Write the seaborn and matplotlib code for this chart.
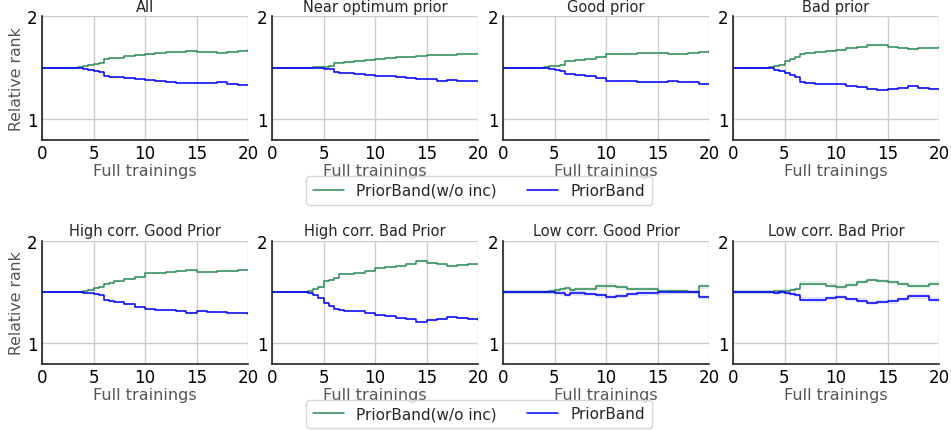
import numpy as np
import pandas as pd
import matplotlib
matplotlib.use("Agg")
import matplotlib.pyplot as plt
import seaborn as sns

# ---- data ----
x_vals = [0, 3.5, 4, 4.5, 5, 5.5, 6, 6.5, 7, 8, 9, 10, 11, 12, 13, 14, 15, 16, 17, 18, 19, 20]

titles = ["All", "Near optimum prior", "Good prior", "Bad prior",
          "High corr. Good Prior", "High corr. Bad Prior", "Low corr. Good Prior", "Low corr. Bad Prior"]

wo_all = [1.5, 1.505, 1.515, 1.525, 1.537, 1.55, 1.58, 1.59, 1.595, 1.61, 1.62, 1.634, 1.64, 1.648, 1.652, 1.66, 1.656, 1.652, 1.645, 1.652, 1.666, 1.667]
pb_all = [1.5, 1.495, 1.488, 1.48, 1.472, 1.455, 1.42, 1.41, 1.405, 1.398, 1.385, 1.375, 1.368, 1.362, 1.355, 1.346, 1.35, 1.355, 1.358, 1.34, 1.335, 1.333]

wo_near = [1.5, 1.5, 1.505, 1.508, 1.51, 1.515, 1.547, 1.55, 1.555, 1.565, 1.578, 1.585, 1.59, 1.6, 1.605, 1.61, 1.62, 1.624, 1.62, 1.634, 1.632, 1.63]
pb_near = [1.5, 1.5, 1.498, 1.495, 1.49, 1.485, 1.456, 1.45, 1.445, 1.435, 1.424, 1.42, 1.414, 1.408, 1.4, 1.392, 1.385, 1.37, 1.38, 1.365, 1.367, 1.368]

wo_good = [1.5, 1.5, 1.505, 1.512, 1.52, 1.53, 1.56, 1.565, 1.57, 1.58, 1.6, 1.634, 1.632, 1.636, 1.64, 1.644, 1.638, 1.634, 1.636, 1.645, 1.657, 1.663]
pb_good = [1.5, 1.5, 1.495, 1.488, 1.48, 1.47, 1.44, 1.435, 1.425, 1.417, 1.395, 1.366, 1.37, 1.365, 1.362, 1.36, 1.362, 1.366, 1.364, 1.36, 1.343, 1.34]

wo_bad = [1.5, 1.505, 1.52, 1.53, 1.56, 1.58, 1.6, 1.634, 1.64, 1.65, 1.66, 1.673, 1.69, 1.705, 1.72, 1.725, 1.705, 1.695, 1.68, 1.69, 1.695, 1.705]
pb_bad = [1.5, 1.495, 1.48, 1.47, 1.445, 1.425, 1.405, 1.36, 1.35, 1.343, 1.338, 1.336, 1.325, 1.31, 1.29, 1.278, 1.29, 1.305, 1.32, 1.304, 1.295, 1.288]

wo_hgood = [1.5, 1.5, 1.51, 1.52, 1.536, 1.545, 1.578, 1.59, 1.605, 1.627, 1.65, 1.68, 1.684, 1.69, 1.7, 1.714, 1.69, 1.695, 1.70, 1.705, 1.712, 1.717]
pb_hgood = [1.5, 1.5, 1.49, 1.485, 1.48, 1.465, 1.425, 1.41, 1.4, 1.383, 1.355, 1.328, 1.325, 1.318, 1.31, 1.295, 1.31, 1.305, 1.30, 1.297, 1.29, 1.286]

wo_hbad = [1.5, 1.51, 1.53, 1.55, 1.61, 1.62, 1.636, 1.67, 1.675, 1.68, 1.7, 1.734, 1.745, 1.756, 1.775, 1.8, 1.785, 1.773, 1.75, 1.76, 1.768, 1.773]
pb_hbad = [1.5, 1.49, 1.465, 1.44, 1.39, 1.36, 1.335, 1.318, 1.315, 1.31, 1.29, 1.27, 1.26, 1.247, 1.23, 1.21, 1.225, 1.237, 1.253, 1.245, 1.235, 1.227]

wo_lgood = [1.5, 1.5, 1.5, 1.505, 1.52, 1.525, 1.54, 1.52, 1.525, 1.53, 1.553, 1.56, 1.545, 1.53, 1.53, 1.53, 1.51, 1.505, 1.505, 1.5, 1.553, 1.553]
pb_lgood = [1.5, 1.5, 1.5, 1.497, 1.49, 1.485, 1.47, 1.49, 1.485, 1.48, 1.465, 1.45, 1.46, 1.48, 1.485, 1.49, 1.495, 1.5, 1.5, 1.5, 1.45, 1.45]

wo_lbad = [1.5, 1.5, 1.51, 1.505, 1.513, 1.52, 1.53, 1.58, 1.58, 1.58, 1.56, 1.545, 1.57, 1.594, 1.617, 1.605, 1.594, 1.575, 1.555, 1.555, 1.58, 1.58]
pb_lbad = [1.5, 1.5, 1.49, 1.5, 1.49, 1.48, 1.47, 1.425, 1.425, 1.425, 1.438, 1.448, 1.43, 1.415, 1.39, 1.4, 1.408, 1.43, 1.455, 1.455, 1.425, 1.425]

# standard-error half widths per panel
sem_width = [0.006, 0.006, 0.007, 0.008, 0.008, 0.008, 0.022, 0.022]

wo_series = [wo_all, wo_near, wo_good, wo_bad, wo_hgood, wo_hbad, wo_lgood, wo_lbad]
pb_series = [pb_all, pb_near, pb_good, pb_bad, pb_hgood, pb_hbad, pb_lgood, pb_lbad]

labels = ["PriorBand(w/o inc)", "PriorBand"]
colors = ["#2e8b57", "#0000ff"]

# ---- plot ----
sns.set_style("whitegrid")
plt.rcParams["font.family"] = ["DejaVu Sans"]

fig = plt.figure(figsize=(9.51, 4.31), dpi=100)
W, H = 951.0, 431.0
lefts = [42, 272, 503, 733]
aw = 206
rows = [(17.3, 140.5), (241.7, 364.5)]

axes = []
for r, (top, bot) in enumerate(rows):
    for c, lx in enumerate(lefts):
        ax = fig.add_axes([lx / W, 1 - bot / H, aw / W, (bot - top) / H])
        axes.append(ax)

handles = None
for i, ax in enumerate(axes):
    df = pd.DataFrame({"x": x_vals, "wo": wo_series[i], "pb": pb_series[i]})
    for key, lab, col in zip(["wo", "pb"], labels, colors):
        y = np.array(df[key])
        ax.fill_between(df["x"], y - sem_width[i], y + sem_width[i], step="post",
                        color=col, alpha=0.12, linewidth=0)
        sns.lineplot(data=df, x="x", y=key, ax=ax, color=col, label=lab,
                     drawstyle="steps-post", linewidth=1.1)
    if handles is None:
        handles, _ = ax.get_legend_handles_labels()
    ax.get_legend().remove()
    ax.set_xlim(0, 20)
    ax.set_ylim(0.8, 2)
    ax.set_xticks([0, 5, 10, 15, 20])
    ax.set_yticks([1, 2])
    ax.tick_params(axis="both", labelsize=12, length=0, pad=3, colors="black")
    ax.set_title(titles[i], fontsize=10.5, pad=4)
    ax.set_xlabel("Full trainings", fontsize=11.5, color="#555555", labelpad=1)
    if i % 4 == 0:
        ax.set_ylabel("Relative rank", fontsize=11.3, color="#555555", labelpad=2)
    else:
        ax.set_ylabel("")
    ax.grid(True, color="#cccccc", linewidth=1)
    sns.despine(ax=ax)
    for s in ["left", "bottom"]:
        ax.spines[s].set_color("#222222")
        ax.spines[s].set_linewidth(1.2)

for cy in [191.5, 415]:
    fig.legend(handles, labels, loc="center", bbox_to_anchor=(479 / W, 1 - cy / H),
               ncol=2, fontsize=11, frameon=True, handlelength=2.0,
               columnspacing=2.0, borderpad=0.45, handletextpad=0.8)

fig.savefig("out.png", dpi=100)
